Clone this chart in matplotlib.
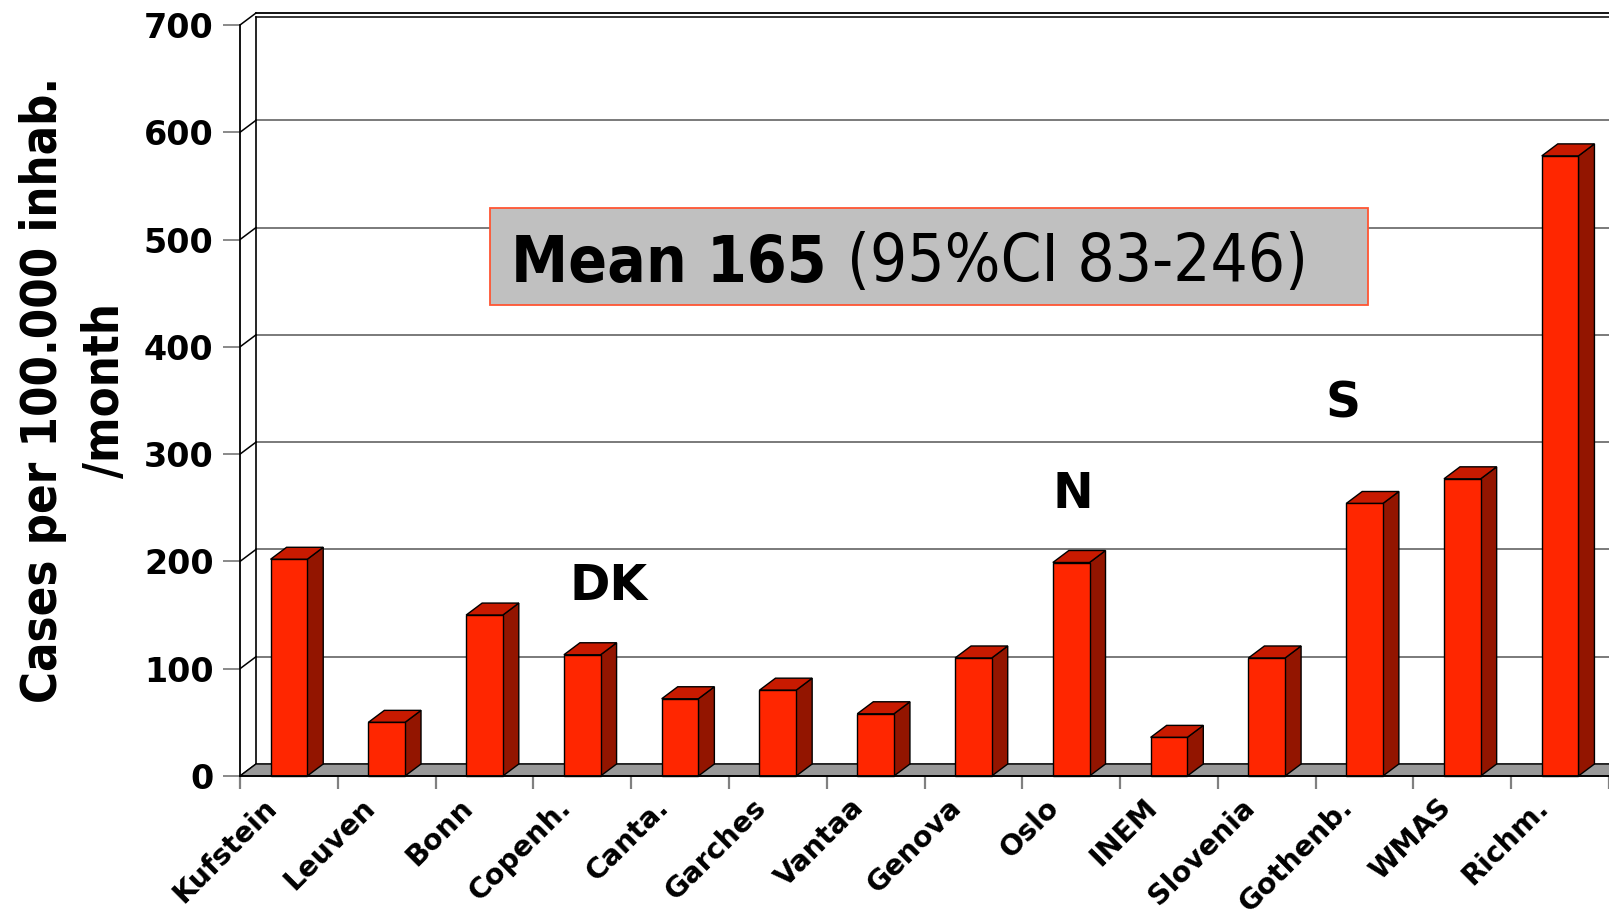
import matplotlib
matplotlib.use('Agg')
import matplotlib.pyplot as plt
from matplotlib.patches import Polygon, Rectangle

# values (cases per 100.000 inhab. / month)
sites = ['Kufstein', 'Leuven', 'Bonn', 'Copenh.', 'Canta.', 'Garches', 'Vantaa',
         'Genova', 'Oslo', 'INEM', 'Slovenia', 'Gothenb.', 'WMAS', 'Richm.']
cases = [202, 50, 150, 113, 72, 80, 58, 110, 199, 36, 110, 254, 277, 578]
y_ticks = [0, 100, 200, 300, 400, 500, 600, 700]
tags = ['DK', 'N', 'S']
mean_text = 'Mean 165 '
ci_text = '(95%CI 83-246)'

W, H = 1609, 917
FRONT = '#ff2600'
SIDE = '#931500'
TOP = '#c81a00'

fig = plt.figure(figsize=(W / 100, H / 100), dpi=100)
ax = fig.add_axes([240 / W, 1 - 776 / H, (W - 240) / W, (776 - 25) / H])
ax.set_xlim(0, len(sites))
ax.set_ylim(0, 700)
ax.patch.set_visible(False)

# depth of the fake 3D box, in data units (16 px right, 12 px up)
px_x = (W - 240) / len(sites)
px_y = (776 - 25) / 700
dx = 16 / px_x
dy = 12 / px_y
n = len(sites)

# back wall grid + diagonals from the front ticks
for v in y_ticks:
    ax.plot([dx, n + dx + 1], [v + dy, v + dy], color='#707070' if v < 700 else 'black',
            lw=1.3, clip_on=False, zorder=1)
    ax.plot([0, dx], [v, v + dy], color='black', lw=1.1, clip_on=False, zorder=1)
ax.plot([dx, dx], [dy, 700 + dy - 4 / px_y], color='black', lw=1.2, clip_on=False, zorder=1)
ax.plot([dx, n + dx + 1], [700 + dy - 4 / px_y] * 2, color='black', lw=1.1, clip_on=False, zorder=1)

# floor
ax.add_patch(Polygon([(0, 0), (n + 1, 0), (n + 1 + dx, dy), (dx, dy)], closed=True,
                     fc='#999999', ec='black', lw=1, clip_on=False, zorder=2))

# bars
w = 0.375
for i, v in enumerate(cases):
    c = i + 0.5
    x0, x1 = c - w / 2, c + w / 2
    ax.add_patch(Polygon([(x1, 0), (x1 + dx, dy), (x1 + dx, v + dy), (x1, v)], closed=True,
                         fc=SIDE, ec='black', lw=1, clip_on=False, zorder=3))
    ax.add_patch(Polygon([(x0, v), (x1, v), (x1 + dx, v + dy), (x0 + dx, v + dy)], closed=True,
                         fc=TOP, ec='black', lw=1, clip_on=False, zorder=3))
    ax.add_patch(Rectangle((x0, 0), w, v, fc=FRONT, ec='black', lw=1, clip_on=False, zorder=4))

# axes, ticks
for s in ['top', 'right']:
    ax.spines[s].set_visible(False)
for s in ['left', 'bottom']:
    ax.spines[s].set_linewidth(1.3)
    ax.spines[s].set_zorder(5)
ax.set_yticks(y_ticks)
ax.set_yticklabels([str(t) for t in y_ticks], fontsize=24, fontweight='bold')
ax.tick_params(axis='y', length=12, width=1.3, color='#808080', pad=7)
ax.set_xticks(range(n + 1))
ax.set_xticklabels([])
ax.tick_params(axis='x', length=9, width=1.6, color='#808080')

for i, name in enumerate(sites):
    ax.annotate(name, xy=(i + 0.5, 0), xytext=(-16, -27), textcoords='offset pixels',
                rotation=45, rotation_mode='anchor', ha='right', va='center',
                fontsize=20.5, fontweight='bold', annotation_clip=False)

# country tags
for t, (x, y) in zip(tags, [(3.77, 164), (8.52, 250), (11.28, 334)]):
    ax.text(x, y, t, ha='center', va='baseline', fontsize=35, fontweight='bold')

# y label
fig.text(74 / W, 1 - 390 / H, 'Cases per 100.000 inhab.\n/month', rotation=90,
         ha='center', va='center', multialignment='center', fontsize=35,
         fontweight='bold', fontstretch='condensed', linespacing=1.35)

# mean box
fig.add_artist(Rectangle((490.5 / W, 1 - 305 / H), (1368 - 490.5) / W, 97 / H,
                         transform=fig.transFigure, fc='#c0c0c0', ec='#ff5533',
                         lw=1.3, zorder=5))
t1 = fig.text(511 / W, 1 - 282 / H, mean_text, fontsize=46, fontweight='bold',
              fontstretch='condensed', va='baseline', zorder=6)
fig.add_artist(plt.Annotation(ci_text, xy=(1, 0), xycoords=t1, va='bottom', ha='left',
                              fontsize=47, fontstretch='condensed', zorder=6))

fig.savefig('out.png', dpi=100)
